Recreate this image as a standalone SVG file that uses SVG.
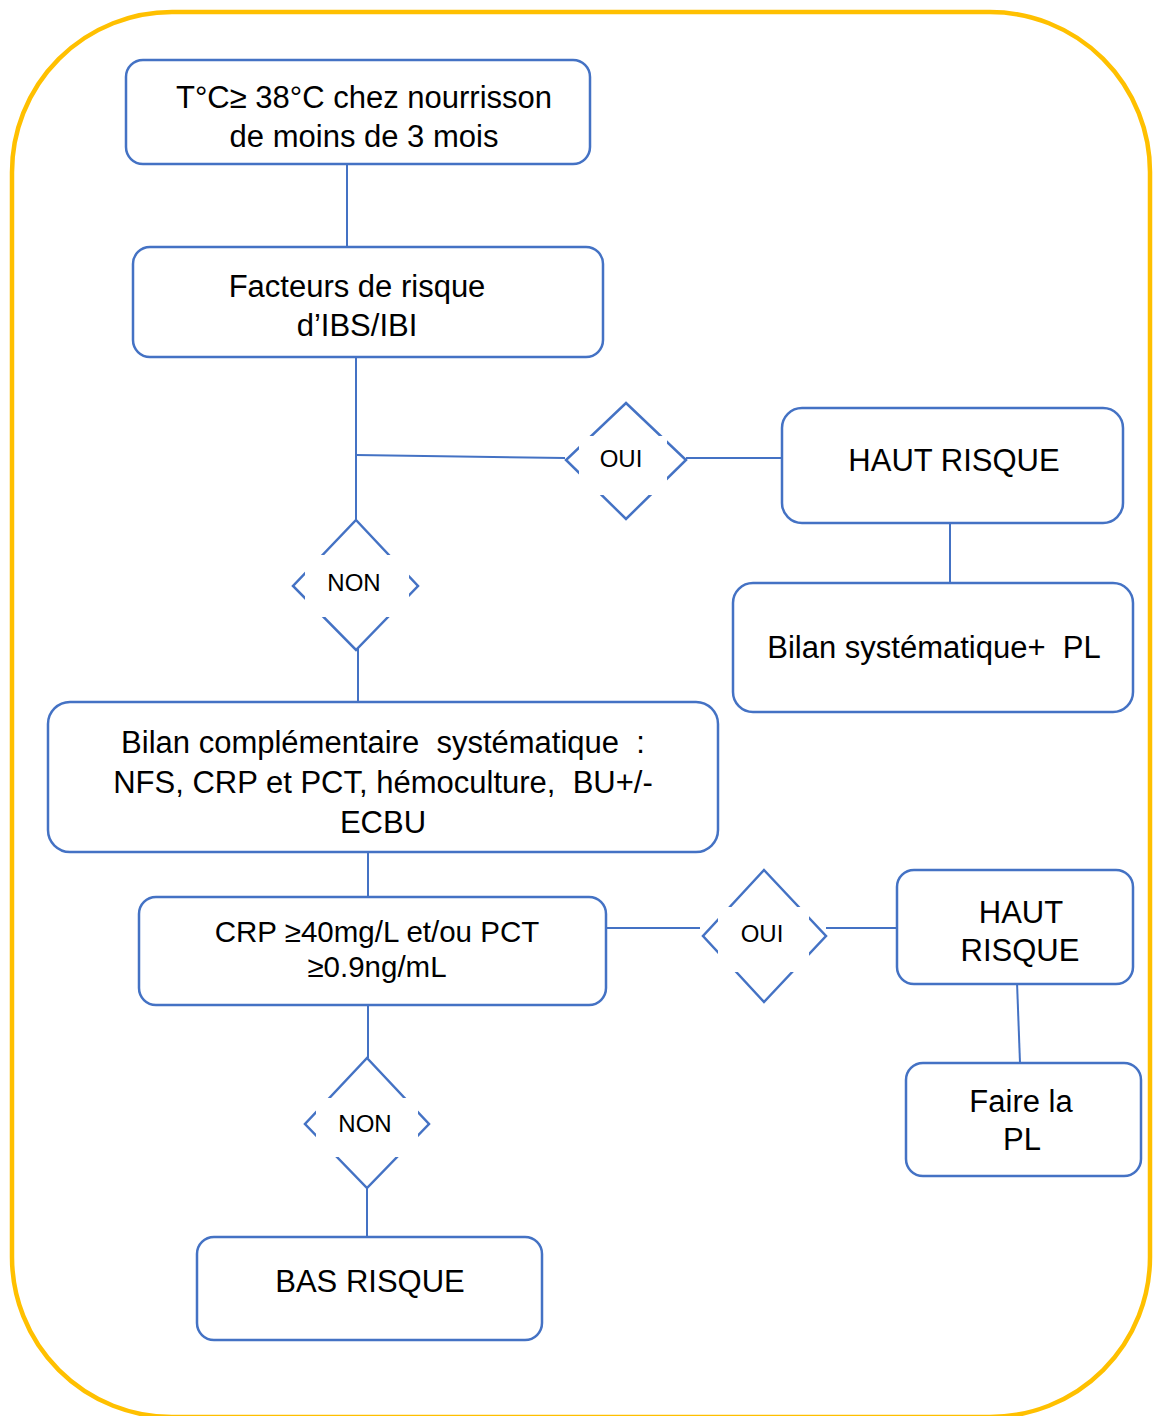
<svg xmlns="http://www.w3.org/2000/svg" width="1153" height="1416" viewBox="0 0 1153 1416">
<style>
.box{fill:#fff;stroke:#4472C4;stroke-width:2.5}
.dia{fill:#fff;stroke:#4472C4;stroke-width:2.5}
.mask{fill:#fff;stroke:none}
.ln{stroke:#4472C4;stroke-width:2;fill:none}
text{font-family:"Liberation Sans",Arial,sans-serif;fill:#000;text-anchor:middle;white-space:pre}
.t31{font-size:31px}
.t30{font-size:31px}
.t28{font-size:29.5px}
.t24{font-size:24px}
</style>
<rect x="12" y="12" width="1138" height="1405" rx="160" ry="160" fill="#fff" stroke="#FFC000" stroke-width="4.5"/>
<g id="connectors">
<line class="ln" x1="347" y1="164" x2="347" y2="247"/>
<line class="ln" x1="356" y1="357" x2="356" y2="520"/>
<line class="ln" x1="356" y1="455" x2="565" y2="458"/>
<line class="ln" x1="686" y1="458" x2="782" y2="458"/>
<line class="ln" x1="950" y1="520" x2="950" y2="594"/>
<line class="ln" x1="358" y1="642" x2="358" y2="702"/>
<line class="ln" x1="368" y1="852" x2="368" y2="897"/>
<line class="ln" x1="604" y1="928" x2="700" y2="928"/>
<line class="ln" x1="826" y1="928" x2="897" y2="928"/>
<line class="ln" x1="1017" y1="982" x2="1020" y2="1063"/>
<line class="ln" x1="368" y1="1005" x2="368" y2="1058"/>
<line class="ln" x1="367" y1="1180" x2="367" y2="1237"/>
</g>
<g id="n1">
<rect class="box" x="126" y="60" width="464" height="104" rx="17"/>
<text class="t31" x="364" y="108">T°C≥ 38°C chez nourrisson</text>
<text class="t31" x="364" y="147">de moins de 3 mois</text>
</g>
<g id="n2">
<rect class="box" x="133" y="247" width="470" height="110" rx="17"/>
<text class="t31" x="357" y="297">Facteurs de risque</text>
<text class="t31" x="357" y="336">d’IBS/IBI</text>
</g>
<g id="d1">
<polygon class="dia" points="626,403 686,460 626,519 566,460"/>
<rect class="mask" x="579" y="436" width="88" height="59"/>
<text class="t24" x="621" y="467">OUI</text>
</g>
<g id="n3">
<rect class="box" x="782" y="408" width="341" height="115" rx="20"/>
<text class="t31" x="954" y="471">HAUT RISQUE</text>
</g>
<g id="n4">
<rect class="box" x="733" y="583" width="400" height="129" rx="20"/>
<text class="t31" x="934" y="658" xml:space="preserve">Bilan systématique+  PL</text>
</g>
<g id="d2">
<polygon class="dia" points="356,520 418,586 356,650 293,586"/>
<rect class="mask" x="305" y="555" width="104" height="62"/>
<text class="t24" x="354" y="591">NON</text>
</g>
<g id="n5">
<rect class="box" x="48" y="702" width="670" height="150" rx="22"/>
<text class="t30" x="383" y="753" xml:space="preserve">Bilan complémentaire  systématique  :</text>
<text class="t30" x="383" y="793" xml:space="preserve">NFS, CRP et PCT, hémoculture,  BU+/-</text>
<text class="t30" x="383" y="833">ECBU</text>
</g>
<g id="n6">
<rect class="box" x="139" y="897" width="467" height="108" rx="17"/>
<text class="t28" x="377" y="942">CRP ≥40mg/L et/ou PCT</text>
<text class="t28" x="377" y="977">≥0.9ng/mL</text>
</g>
<g id="d3">
<polygon class="dia" points="764,870 826,936 764,1002 703,936"/>
<rect class="mask" x="718" y="907" width="91" height="65"/>
<text class="t24" x="762" y="942">OUI</text>
</g>
<g id="n7">
<rect class="box" x="897" y="870" width="236" height="114" rx="17"/>
<text class="t31" x="1021" y="923">HAUT</text>
<text class="t31" x="1020" y="961">RISQUE</text>
</g>
<g id="n8">
<rect class="box" x="906" y="1063" width="235" height="113" rx="17"/>
<text class="t31" x="1021" y="1112">Faire la</text>
<text class="t31" x="1022" y="1150">PL</text>
</g>
<g id="d4">
<polygon class="dia" points="367,1058 429,1124 367,1188 305,1124"/>
<rect class="mask" x="316" y="1098" width="102" height="59"/>
<text class="t24" x="365" y="1132">NON</text>
</g>
<g id="n9">
<rect class="box" x="197" y="1237" width="345" height="103" rx="17"/>
<text class="t31" x="370" y="1292">BAS RISQUE</text>
</g>
</svg>
